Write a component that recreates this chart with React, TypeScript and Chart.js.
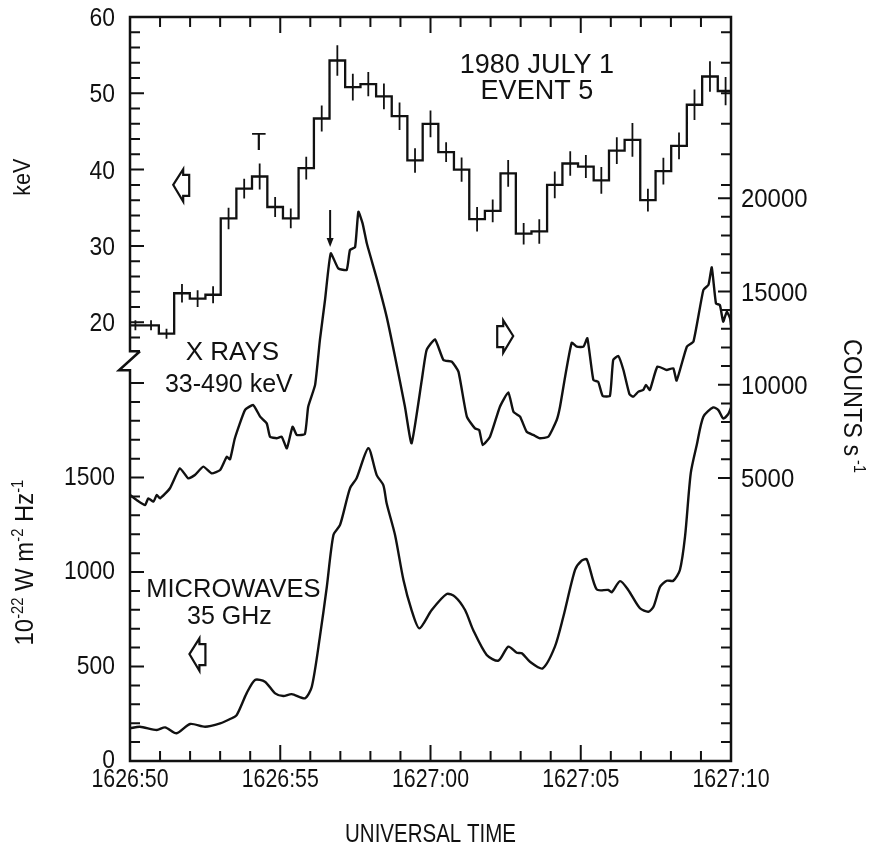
import React, { useEffect, useRef } from 'react';
import { Chart, registerables } from 'chart.js';

Chart.register(...registerables);

// ---- axis ticks / labels ----
const TIME_TICKS = [0, 5, 10, 15, 20];
const TIME_LABELS = ['1626:50', '1626:55', '1627:00', '1627:05', '1627:10'];
const KEV_TICKS = [20, 30, 40, 50, 60];
const FLUX_TICKS = [0, 500, 1000, 1500];
const COUNT_TICKS = [5000, 10000, 15000, 20000];

// ---- microwaves 35 GHz: [seconds after 16:26:50, 10^-22 W m^-2 Hz^-1] ----
const MICROWAVE: [number, number][] = [
  [0, 173], [0.33, 181], [0.89, 164], [1.17, 178], [1.55, 147], [2.0, 196], [2.5, 181],
  [3.0, 199], [3.33, 222], [3.55, 243], [3.88, 358], [4.16, 429], [4.49, 420], [4.83, 358],
  [5.1, 344], [5.38, 354], [5.82, 332], [6.05, 393], [6.32, 658], [6.55, 922], [6.77, 1196],
  [6.99, 1249], [7.32, 1443], [7.54, 1496], [7.93, 1655], [8.21, 1513], [8.43, 1460],
  [8.54, 1364], [8.82, 1196], [9.1, 958], [9.37, 799], [9.63, 702], [10.04, 799],
  [10.54, 884], [10.82, 869], [11.15, 799], [11.42, 693], [11.87, 561], [12.26, 531],
  [12.59, 605], [12.87, 573], [13.04, 570], [13.31, 525], [13.73, 490], [14.14, 605],
  [14.42, 763], [14.81, 1011], [15.03, 1060], [15.2, 1067], [15.53, 908], [15.92, 905],
  [16.03, 893], [16.31, 952], [16.58, 905], [16.97, 808], [17.25, 790], [17.42, 816],
  [17.64, 922], [17.86, 954], [18.08, 954], [18.3, 1011], [18.47, 1187], [18.66, 1522],
  [18.86, 1672], [19.08, 1822], [19.41, 1871], [19.58, 1857], [19.74, 1813], [19.91, 1836],
  [20.0, 1870],
];

// ---- X rays 33-490 keV: [seconds, counts s^-1] ----
const XRAYS: [number, number][] = [
  [0, 4090], [0.22, 3820], [0.5, 3550], [0.61, 3910], [0.78, 3730], [0.89, 4090], [1.0, 3910],
  [1.33, 4450], [1.66, 5520], [1.94, 4980], [2.16, 5160], [2.44, 5610], [2.72, 5250],
  [3.0, 5430], [3.22, 6140], [3.33, 6000], [3.49, 7130], [3.83, 8650], [4.1, 8910],
  [4.33, 8290], [4.55, 7930], [4.66, 7210], [4.88, 7130], [5.05, 7210], [5.22, 6590],
  [5.41, 7750], [5.55, 7310], [5.82, 7360], [5.93, 8820], [6.16, 9990], [6.32, 12400],
  [6.49, 14540], [6.68, 17040], [6.93, 16240], [7.21, 16150], [7.32, 17220], [7.49, 17370],
  [7.6, 19270], [7.74, 18650], [7.88, 17580], [8.21, 15700], [8.54, 13650], [8.82, 11500],
  [9.15, 8820], [9.37, 6860], [9.71, 10250], [9.87, 11860], [10.15, 12430], [10.43, 11330],
  [10.71, 11230], [10.93, 10700], [11.21, 8290], [11.48, 7660], [11.62, 7570], [11.74, 6770],
  [11.98, 7210], [12.31, 8820], [12.59, 9590], [12.76, 8550], [12.98, 8290], [13.2, 7480],
  [13.42, 7310], [13.64, 7130], [13.92, 7210], [14.2, 8110], [14.31, 8820], [14.48, 10430],
  [14.7, 12250], [14.87, 12040], [15.09, 12040], [15.22, 12490], [15.42, 10250],
  [15.58, 10160], [15.73, 9400], [15.97, 9400], [16.08, 11330], [16.25, 11540],
  [16.42, 10790], [16.62, 9500], [16.75, 9360], [16.92, 9630], [17.08, 9720], [17.17, 9990],
  [17.3, 9720], [17.55, 10970], [17.86, 10790], [18.08, 10880], [18.19, 10220],
  [18.53, 12040], [18.75, 12310], [19.08, 15080], [19.25, 15350], [19.36, 16290],
  [19.5, 14360], [19.63, 14270], [19.74, 13380], [19.86, 13910], [19.97, 13560], [20.0, 13200],
];

// ---- spectral parameter (keV), histogram bins ----
const KEV_EDGES = [
  -0.08, 0.44, 0.96, 1.47, 1.99, 2.51, 3.02, 3.54, 4.06, 4.57, 5.09, 5.61, 6.12, 6.64, 7.16,
  7.67, 8.19, 8.71, 9.23, 9.74, 10.26, 10.78, 11.29, 11.81, 12.33, 12.84, 13.36, 13.88, 14.39,
  14.91, 15.43, 15.94, 16.46, 16.98, 17.49, 18.01, 18.53, 19.04, 19.56, 20.08,
];
const KEV_VALUES = [
  19.6, 19.6, 18.5, 23.8, 23.1, 23.6, 33.6, 37.5, 39.1, 35.1, 33.6, 40.2, 46.7, 54.3, 50.8,
  51.2, 49.6, 47.0, 41.2, 46.0, 42.3, 40.0, 33.5, 34.6, 39.5, 31.6, 31.9, 38.0, 40.8, 40.4,
  38.6, 42.5, 43.9, 36.0, 39.8, 43.1, 48.5, 52.2, 50.3,
];
const KEV_ERRORS = [
  0.65, 0.65, 0.65, 1.2, 1.1, 1.1, 1.4, 1.3, 1.7, 1.3, 1.3, 1.5, 1.7, 2.0, 1.75, 1.6, 1.7,
  1.8, 1.6, 1.75, 1.3, 1.6, 1.6, 1.5, 1.75, 1.4, 1.6, 1.75, 1.6, 1.5, 1.75, 1.75, 2.2, 1.5,
  1.75, 1.75, 2.0, 2.0, 1.85,
];

const INK = '#111111';
const FONT = '"Liberation Sans", Arial, Helvetica, sans-serif';

type Opt = { align?: CanvasTextAlign; sx?: number; rot?: number };

function drawText(ctx: CanvasRenderingContext2D, s: string, x: number, y: number, size: number, opt: Opt = {}) {
  ctx.save();
  ctx.translate(x, y);
  if (opt.rot) ctx.rotate(opt.rot);
  ctx.scale(opt.sx ?? 1, 1);
  ctx.font = `${size}px ${FONT}`;
  ctx.textAlign = opt.align ?? 'center';
  ctx.textBaseline = 'middle';
  ctx.fillStyle = INK;
  ctx.fillText(s, 0, 0);
  ctx.restore();
}

function drawRich(ctx: CanvasRenderingContext2D, pieces: [string, number, number][], x: number, y: number, baseSize: number, opt: Opt = {}) {
  ctx.save();
  ctx.translate(x, y);
  if (opt.rot) ctx.rotate(opt.rot);
  ctx.scale(opt.sx ?? 1, 1);
  ctx.fillStyle = INK;
  ctx.textBaseline = 'alphabetic';
  ctx.textAlign = 'left';
  let total = 0;
  const widths = pieces.map(([t, size]) => {
    ctx.font = `${size}px ${FONT}`;
    const w = ctx.measureText(t).width;
    total += w;
    return w;
  });
  let cx = -total / 2;
  const base = baseSize * 0.36;
  pieces.forEach(([t, size, raise], i) => {
    ctx.font = `${size}px ${FONT}`;
    ctx.fillText(t, cx, base - raise);
    cx += widths[i];
  });
  ctx.restore();
}

function drawHouseArrow(ctx: CanvasRenderingContext2D, cx: number, cy: number, dir: number) {
  const pts = [[-9.7, 0], [0.3, -15.7], [0.3, -10], [6.3, -10], [6.3, 11], [0.3, 11], [0.3, 16.7]];
  ctx.beginPath();
  pts.forEach(([px, py], i) => {
    const X = cx + (dir < 0 ? px : -px);
    const Y = cy + py;
    if (i === 0) ctx.moveTo(X, Y);
    else ctx.lineTo(X, Y);
  });
  ctx.closePath();
  ctx.stroke();
}

const framePlugin = {
  id: 'frameAndText',
  afterDatasetsDraw(chart: any) {
    const ctx: CanvasRenderingContext2D = chart.ctx;
    const { left, right, top, bottom } = chart.chartArea;
    const sx = chart.scales.x;
    const mw = chart.scales.yMw;
    const kv = chart.scales.yKeV;
    const ct = chart.scales.yCt;
    ctx.save();
    ctx.strokeStyle = INK;
    ctx.fillStyle = INK;
    ctx.lineJoin = 'miter';

    // frame with axis break on the left
    const yBT = kv.getPixelForValue(16.2);
    const yBB = kv.getPixelForValue(13.7);
    ctx.lineWidth = 2.5;
    ctx.beginPath();
    ctx.moveTo(left + 10, yBT);
    ctx.lineTo(left, yBT);
    ctx.lineTo(left, top);
    ctx.lineTo(right, top);
    ctx.lineTo(right, bottom);
    ctx.lineTo(left, bottom);
    ctx.lineTo(left, yBB);
    ctx.lineTo(left - 11, yBB);
    ctx.lineTo(left + 10, yBT);
    ctx.stroke();

    // inward ticks
    ctx.lineWidth = 2;
    ctx.beginPath();
    for (let s = 1; s < 20; s++) {
      const x = sx.getPixelForValue(s);
      const len = s % 5 === 0 ? 16 : 10;
      ctx.moveTo(x, bottom); ctx.lineTo(x, bottom - len);
      ctx.moveTo(x, top); ctx.lineTo(x, top + len);
    }
    for (let v = 18; v <= 58; v += 2) {
      const y = kv.getPixelForValue(v);
      const len = v % 10 === 0 ? 14 : 10;
      ctx.moveTo(left, y); ctx.lineTo(left + len, y);
    }
    for (let v = 100; v <= 2000; v += 100) {
      const y = mw.getPixelForValue(v);
      const len = v % 500 === 0 ? 14 : 10;
      ctx.moveTo(left, y); ctx.lineTo(left + len, y);
    }
    for (let v = 38; v <= 58; v += 4) {
      const y = kv.getPixelForValue(v);
      ctx.moveTo(right, y); ctx.lineTo(right - 10, y);
    }
    for (let v = 5000; v <= 20000; v += 1000) {
      const y = ct.getPixelForValue(v);
      const len = v % 5000 === 0 ? 13 : 10;
      ctx.moveTo(right, y); ctx.lineTo(right - len, y);
    }
    for (let v = 100; v <= 1300; v += 100) {
      const y = mw.getPixelForValue(v);
      ctx.moveTo(right, y); ctx.lineTo(right - 10, y);
    }
    ctx.stroke();

    // tick labels
    KEV_TICKS.forEach((v) => drawText(ctx, String(v), left - 15, kv.getPixelForValue(v) + 2, 26, { align: 'right', sx: 0.88 }));
    FLUX_TICKS.forEach((v) => drawText(ctx, String(v), left - 15, mw.getPixelForValue(v), 26, { align: 'right', sx: 0.88 }));
    COUNT_TICKS.forEach((v) => drawText(ctx, String(v), right + 10, ct.getPixelForValue(v) + 2, 26, { align: 'left', sx: 0.92 }));
    TIME_TICKS.forEach((v, i) => drawText(ctx, TIME_LABELS[i], sx.getPixelForValue(v), bottom + 19, 26, { sx: 0.82 }));

    // axis titles
    drawText(ctx, 'UNIVERSAL TIME', (left + right) / 2, bottom + 74, 25, { sx: 0.82 });
    drawText(ctx, 'keV', 23, kv.getPixelForValue(39.0), 24, { rot: -Math.PI / 2, sx: 0.9 });
    drawRich(ctx, [['10', 26, 0], ['-22', 16, 10], [' W m', 26, 0], ['-2', 16, 10], [' Hz', 26, 0], ['-1', 16, 10]],
      24, mw.getPixelForValue(1050), 26, { rot: -Math.PI / 2, sx: 0.92 });
    drawRich(ctx, [['COUNTS s', 26, 0], [' -1', 16, 10]], 853, ct.getPixelForValue(8860), 26, { rot: Math.PI / 2, sx: 0.9 });

    // annotations
    drawText(ctx, '1980 JULY 1', sx.getPixelForValue(13.54), kv.getPixelForValue(53.6), 27);
    drawText(ctx, 'EVENT 5', sx.getPixelForValue(13.54), kv.getPixelForValue(50.2), 27);
    drawText(ctx, 'T', sx.getPixelForValue(4.29), kv.getPixelForValue(43.5), 24);
    drawText(ctx, 'X RAYS', sx.getPixelForValue(3.41), ct.getPixelForValue(11700), 26);
    drawText(ctx, '33-490 keV', sx.getPixelForValue(3.29), ct.getPixelForValue(9985), 25);
    drawText(ctx, 'MICROWAVES', sx.getPixelForValue(3.44), mw.getPixelForValue(905), 25.5);
    drawText(ctx, '35 GHz', sx.getPixelForValue(3.31), mw.getPixelForValue(762), 25);

    ctx.lineWidth = 2.2;
    drawHouseArrow(ctx, sx.getPixelForValue(1.76), kv.getPixelForValue(38.0), -1);
    drawHouseArrow(ctx, sx.getPixelForValue(12.43), ct.getPixelForValue(12610), 1);
    drawHouseArrow(ctx, sx.getPixelForValue(2.3), mw.getPixelForValue(566), -1);

    // down arrow marking the first X-ray peak
    const ax = sx.getPixelForValue(6.66);
    const ay0 = ct.getPixelForValue(19365);
    const ay1 = ct.getPixelForValue(17382);
    ctx.lineWidth = 2;
    ctx.beginPath();
    ctx.moveTo(ax, ay0); ctx.lineTo(ax, ay1 - 6);
    ctx.stroke();
    ctx.beginPath();
    ctx.moveTo(ax - 3.5, ay1 - 9); ctx.lineTo(ax + 3.5, ay1 - 9); ctx.lineTo(ax, ay1);
    ctx.closePath();
    ctx.fill();

    ctx.restore();
  },
};

export default function App() {
  const ref = useRef<HTMLCanvasElement>(null);

  useEffect(() => {
    document.body.style.margin = '0';
    document.body.style.background = '#ffffff';
    const canvas = ref.current!;

    const stepData = KEV_VALUES.map((v, i) => ({ x: KEV_EDGES[i], y: v }));
    stepData.push({ x: KEV_EDGES[KEV_VALUES.length], y: KEV_VALUES[KEV_VALUES.length - 1] });

    const errData: { x: number; y: number | null }[] = [];
    KEV_VALUES.forEach((v, i) => {
      const c = (KEV_EDGES[i] + KEV_EDGES[i + 1]) / 2;
      errData.push({ x: c, y: v - KEV_ERRORS[i] }, { x: c, y: v + KEV_ERRORS[i] }, { x: c, y: null });
    });

    const chart = new Chart(canvas, {
      type: 'line',
      data: {
        datasets: [
          {
            label: 'Microwaves 35 GHz',
            data: MICROWAVE.map(([x, y]) => ({ x, y })),
            yAxisID: 'yMw',
            borderColor: INK,
            borderWidth: 2.4,
            pointRadius: 0,
            tension: 0.25,
            fill: false,
          },
          {
            label: 'X rays 33-490 keV',
            data: XRAYS.map(([x, y]) => ({ x, y })),
            yAxisID: 'yCt',
            borderColor: INK,
            borderWidth: 2.4,
            pointRadius: 0,
            tension: 0.15,
            fill: false,
          },
          {
            label: 'keV',
            data: stepData,
            yAxisID: 'yKeV',
            borderColor: INK,
            borderWidth: 2.3,
            pointRadius: 0,
            stepped: true,
            fill: false,
          },
          {
            label: 'keV error',
            data: errData as any,
            yAxisID: 'yKeV',
            borderColor: INK,
            borderWidth: 1.8,
            pointRadius: 0,
            spanGaps: false,
            fill: false,
          },
        ],
      },
      options: {
        responsive: false,
        animation: false,
        devicePixelRatio: 1,
        events: [],
        layout: { padding: { left: 130, right: 154, top: 17, bottom: 93 } },
        plugins: { legend: { display: false }, tooltip: { enabled: false } },
        scales: {
          x: { type: 'linear', min: 0, max: 20, display: false },
          yMw: { type: 'linear', min: 0, max: 3937, display: false },
          yKeV: { type: 'linear', min: -37.5, max: 60, display: false },
          yCt: { type: 'linear', min: -10168, max: 29710, display: false },
        },
      },
      plugins: [framePlugin],
    });

    return () => chart.destroy();
  }, []);

  return <canvas ref={ref} width={885} height={854} style={{ display: 'block', width: 885, height: 854 }} />;
}
